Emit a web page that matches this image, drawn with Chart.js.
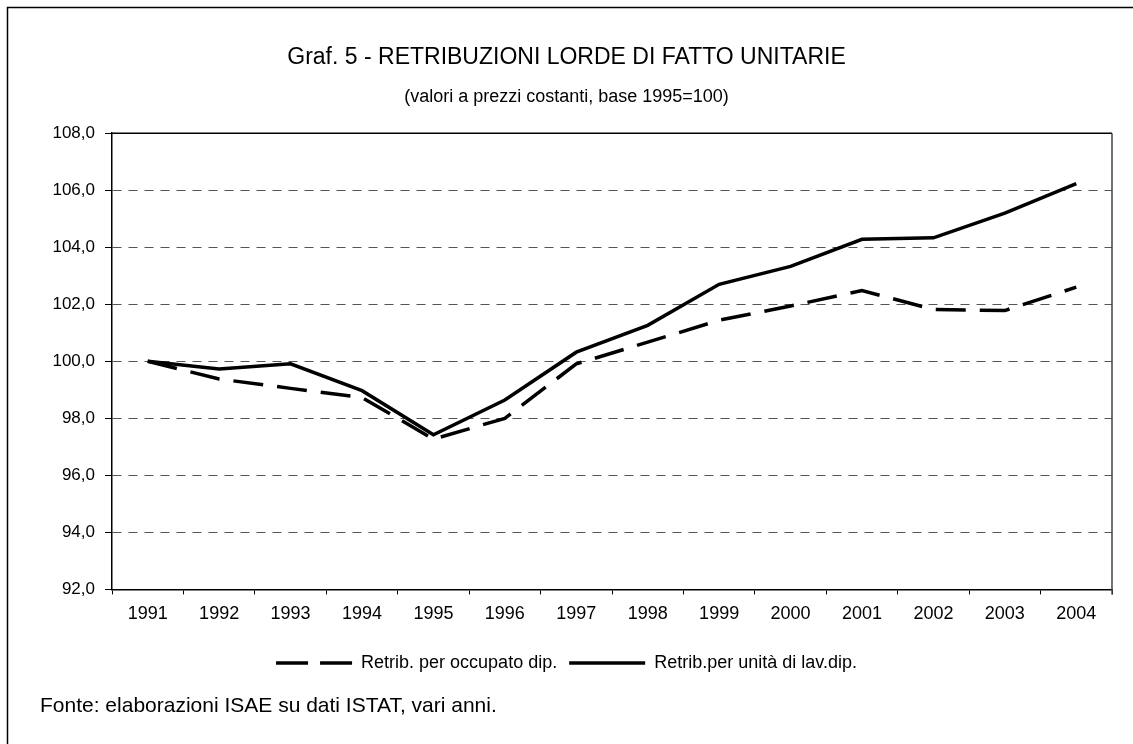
<!DOCTYPE html>
<html>
<head>
<meta charset="utf-8">
<script src="https://cdn.jsdelivr.net/npm/chart.js@4/dist/chart.umd.min.js"></script>
<style>
    body { margin: 0; background: #fff; }
    #wrap { width: 1133px; height: 744px; position: relative; }
</style>
</head>
<body>
<div id="wrap"><canvas id="retribChart"></canvas></div>
<script>
// ======================
// DATI
// ======================
const anni = ["1991", "1992", "1993", "1994", "1995", "1996", "1997",
    "1998", "1999", "2000", "2001", "2002", "2003", "2004"];

const perOccupato = [100.0, 99.38, 99.05, 98.73, 97.27, 98.0, 99.91,
    100.67, 101.44, 101.94, 102.48, 101.82, 101.78, 102.6];

const perUnita = [100.0, 99.73, 99.91, 98.97, 97.42, 98.64, 100.32,
    101.26, 102.7, 103.33, 104.28, 104.33, 105.2, 106.23];

const yTicks = [92, 94, 96, 98, 100, 102, 104, 106, 108];

const FONT = "'Liberation Sans', Arial, sans-serif";

// cornice esterna, bordo area grafico e fonte
const extras = {
    id: "extras",
    afterDraw(chart) {
        const ctx = chart.ctx;
        const a = chart.chartArea;
        ctx.save();
        ctx.strokeStyle = "#000";
        ctx.lineWidth = 1.5;
        ctx.strokeRect(7.5, 7.5, 1300, 900);

        ctx.beginPath();
        ctx.moveTo(a.left, a.top);
        ctx.lineTo(a.right, a.top);
        ctx.stroke();
        ctx.strokeStyle = "#444";
        ctx.beginPath();
        ctx.moveTo(a.right, a.top);
        ctx.lineTo(a.right, a.bottom + 5);
        ctx.stroke();

        ctx.fillStyle = "#000";
        ctx.font = "21px " + FONT;
        ctx.textAlign = "left";
        ctx.textBaseline = "alphabetic";
        ctx.fillText("Fonte: elaborazioni ISAE su dati ISTAT, vari anni.", 40, 712);
        ctx.restore();
    }
};

new Chart(
    document.getElementById("retribChart"),
    {
        type: "line",

        data: {
            labels: anni,

            datasets: [{
                label: "Retrib. per occupato dip.",
                data: perOccupato,
                borderColor: "#000",
                borderWidth: 3.5,
                borderDash: [30, 14],
                pointRadius: 0,
                tension: 0
            }, {
                label: "Retrib.per unità di lav.dip.",
                data: perUnita,
                borderColor: "#000",
                borderWidth: 3.5,
                pointRadius: 0,
                tension: 0
            }]
        },

        options: {
            responsive: true,
            maintainAspectRatio: false,
            animation: false,
            events: [],

            layout: {
                padding: { left: 21, right: 21, top: 0, bottom: 62 }
            },

            plugins: {
                title: {
                    display: true,
                    text: "Graf. 5 - RETRIBUZIONI LORDE DI FATTO UNITARIE",
                    color: "#000",
                    font: { family: FONT, size: 23, weight: "normal" },
                    padding: { top: 44, bottom: 0 }
                },
                subtitle: {
                    display: true,
                    text: "(valori a prezzi costanti, base 1995=100)",
                    color: "#000",
                    font: { family: FONT, size: 18 },
                    padding: { top: 15, bottom: 25 }
                },
                legend: {
                    position: "bottom",
                    labels: {
                        color: "#000",
                        font: { family: FONT, size: 18 },
                        usePointStyle: true,
                        pointStyleWidth: 76,
                        padding: 12,
                        generateLabels(chart) {
                            return chart.data.datasets.map((ds, i) => ({
                                text: ds.label,
                                fillStyle: "#000",
                                strokeStyle: "#000",
                                lineWidth: 3.5,
                                lineDash: ds.borderDash ? [32, 12] : [],
                                pointStyle: "line",
                                fontColor: "#000",
                                datasetIndex: i
                            }));
                        }
                    }
                },
                tooltip: { enabled: false }
            },

            scales: {
                x: {
                    offset: true,
                    grid: {
                        offset: true,
                        drawOnChartArea: false,
                        tickLength: 5,
                        tickColor: "#000",
                        tickWidth: 1
                    },
                    border: { color: "#000", width: 1.5 },
                    ticks: {
                        color: "#000",
                        font: { family: FONT, size: 18 },
                        padding: 9,
                        maxRotation: 0,
                        autoSkip: false
                    },
                    afterFit(scale) {
                        scale.height += 8;
                    }
                },
                y: {
                    min: 92,
                    max: 108,
                    afterBuildTicks(scale) {
                        scale.ticks = yTicks.map(v => ({ value: v }));
                    },
                    grid: {
                        color: "#555",
                        lineWidth: 1,
                        tickLength: 7,
                        tickColor: "#000",
                        tickWidth: 1
                    },
                    border: { color: "#000", width: 1.5, dash: [9, 7] },
                    ticks: {
                        color: "#000",
                        font: { family: FONT, size: 17 },
                        padding: 10,
                        callback: v => v.toFixed(1).replace(".", ",")
                    },
                    afterFit(scale) {
                        scale.width = 91;
                    }
                }
            }
        },

        plugins: [extras]
    }
);
</script>
</body>
</html>
